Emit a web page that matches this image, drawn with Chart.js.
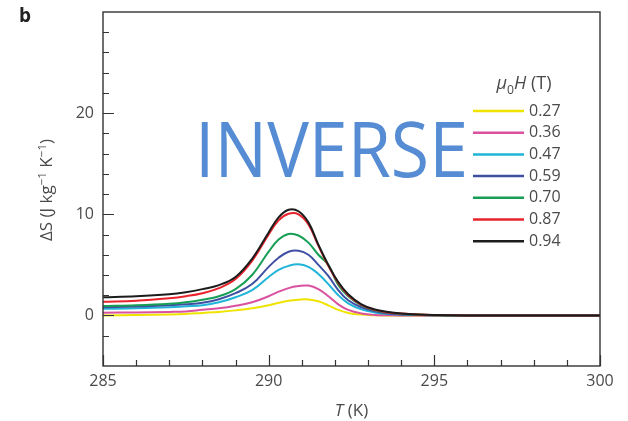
<!DOCTYPE html>
<html>
<head>
<meta charset="utf-8">
<title>Entropy change vs temperature</title>
<script src="https://cdn.jsdelivr.net/npm/chart.js@4.4.1/dist/chart.umd.min.js"></script>
<style>
  html, body { margin: 0; padding: 0; background: #fff; }
  #wrap { position: relative; width: 628px; height: 421px; }
</style>
</head>
<body>
<div id="wrap"><canvas id="chart" width="628" height="421"></canvas></div>
<script>
/* ---- data: ΔS (J kg-1 K-1) against T (K), one curve per field ---- */
const temps = [285, 286, 287, 287.5, 288, 288.5, 289, 289.5, 290, 290.3, 290.6, 290.9,
               291.2, 291.5, 291.8, 292.1, 292.4, 292.8, 293.2, 293.6, 294, 294.5, 295,
               296, 298, 300];

const fieldLabels = ['0.27', '0.36', '0.47', '0.59', '0.70', '0.87', '0.94'];

const ds027 = [0.0, 0.05, 0.1, 0.15, 0.25, 0.35, 0.5, 0.7, 1.0, 1.25, 1.45, 1.55,
               1.58, 1.4, 1.0, 0.55, 0.25, 0.08, 0.02, 0, 0, 0, 0, 0, 0, 0];
const ds036 = [0.27, 0.3, 0.35, 0.4, 0.55, 0.7, 0.95, 1.3, 1.9, 2.35, 2.7, 2.9,
               2.95, 2.6, 1.9, 1.1, 0.55, 0.2, 0.05, 0.02, 0, 0, 0, 0, 0, 0];
const ds047 = [0.66, 0.7, 0.8, 0.9, 1.0, 1.3, 1.8, 2.5, 3.8, 4.5, 4.9, 5.05,
               4.8, 4.1, 3.1, 2.0, 1.2, 0.6, 0.3, 0.15, 0.08, 0.04, 0.01, 0, 0, 0];
const ds059 = [0.82, 0.88, 1.0, 1.1, 1.25, 1.6, 2.2, 3.1, 4.8, 5.7, 6.3, 6.4,
               6.0, 5.0, 3.9, 2.5, 1.5, 0.8, 0.4, 0.2, 0.1, 0.05, 0.02, 0, 0, 0];
const ds070 = [0.92, 1.0, 1.15, 1.3, 1.55, 1.9, 2.6, 4.0, 6.3, 7.5, 8.05, 7.9,
               7.2, 6.0, 5.0, 3.0, 1.9, 1.0, 0.5, 0.28, 0.15, 0.07, 0.02, 0, 0, 0];
const ds087 = [1.35, 1.45, 1.7, 1.9, 2.2, 2.7, 3.6, 5.4, 8.0, 9.4, 10.05, 10.0,
               9.0, 6.9, 4.9, 3.2, 2.0, 1.05, 0.55, 0.3, 0.18, 0.08, 0.03, 0, 0, 0];
const ds094 = [1.8, 1.9, 2.1, 2.3, 2.6, 3.0, 3.8, 5.6, 8.2, 9.7, 10.45, 10.3,
               9.2, 7.0, 5.0, 3.3, 2.1, 1.1, 0.6, 0.35, 0.2, 0.1, 0.05, 0, 0, 0];

const xTickLabels = [285, 290, 295, 300];
const yTickLabels = [0, 10, 20];

const lineColors = ['#f0e300', '#d9519f', '#1fb4d8', '#3f4fa3', '#169e55', '#e8232c', '#1c1c1c'];

const FONT = '"Open Sans", "Noto Sans", sans-serif';
const TEXT = '#4a4a4a';

const series = [ds027, ds036, ds047, ds059, ds070, ds087, ds094];

const datasets = series.map((vals, i) => ({
  label: fieldLabels[i],
  data: temps.map((t, k) => ({ x: t, y: vals[k] })),
  borderColor: lineColors[i],
  borderWidth: 2,
  pointRadius: 0,
  fill: false,
  tension: 0.4,
  order: series.length - i   // highest field drawn on top
}));

/* draw a run of text pieces, some raised/lowered, starting at x */
function richWidth(ctx, parts, size) {
  let w = 0;
  parts.forEach(p => {
    ctx.font = (p.style || '') + ' ' + (p.sub || p.sup ? size * 0.68 : size) + 'px ' + FONT;
    w += ctx.measureText(p.t).width;
  });
  return w;
}
function drawRich(ctx, parts, x, y, size) {
  parts.forEach(p => {
    const s = p.sub || p.sup ? size * 0.68 : size;
    ctx.font = (p.style || '') + ' ' + s + 'px ' + FONT;
    const dy = p.sup ? -size * 0.38 : p.sub ? size * 0.25 : 0;
    ctx.fillText(p.t, x, y + dy);
    x += ctx.measureText(p.t).width;
  });
}

/* frame, inward ticks, labels, legend and overlay text */
const decorations = {
  id: 'decorations',
  afterDraw(chart) {
    const { ctx, chartArea: a, scales: { x, y } } = chart;
    ctx.save();

    // plot frame
    ctx.strokeStyle = '#333';
    ctx.lineWidth = 1.4;
    ctx.strokeRect(a.left, a.top, a.right - a.left, a.bottom - a.top);

    // x ticks (inward from bottom)
    ctx.lineWidth = 1.2;
    ctx.beginPath();
    for (let t = x.min; t <= x.max; t += 1) {
      const px = Math.round(x.getPixelForValue(t)) + 0.5;
      const len = xTickLabels.includes(t) ? 11 : 6;
      ctx.moveTo(px, a.bottom);
      ctx.lineTo(px, a.bottom - len);
    }
    // y ticks (inward from left)
    for (let v = -2; v < y.max; v += 2) {
      const py = Math.round(y.getPixelForValue(v)) + 0.5;
      const len = yTickLabels.includes(v) ? 11 : 6;
      ctx.moveTo(a.left, py);
      ctx.lineTo(a.left + len, py);
    }
    ctx.stroke();

    // tick labels
    ctx.fillStyle = TEXT;
    ctx.font = '16px ' + FONT;
    ctx.textBaseline = 'middle';
    ctx.textAlign = 'center';
    xTickLabels.forEach(t => ctx.fillText(String(t), x.getPixelForValue(t), a.bottom + 15));
    ctx.textAlign = 'right';
    yTickLabels.forEach(v => ctx.fillText(String(v), a.left - 9, y.getPixelForValue(v)));

    // x title: T (K)
    ctx.textAlign = 'left';
    ctx.textBaseline = 'alphabetic';
    const xt = [{ t: 'T', style: 'italic' }, { t: ' (K)' }];
    drawRich(ctx, xt, (a.left + a.right) / 2 - richWidth(ctx, xt, 17) / 2, 416, 17);

    // y title: ΔS (J kg−1 K−1)
    const yt = [{ t: 'ΔS (J kg' }, { t: '−1', sup: true }, { t: ' K' }, { t: '−1', sup: true }, { t: ')' }];
    ctx.save();
    ctx.translate(52, 190);
    ctx.rotate(-Math.PI / 2);
    drawRich(ctx, yt, -richWidth(ctx, yt, 17) / 2, 0, 17);
    ctx.restore();

    // legend
    const lt = [{ t: 'μ', style: 'italic' }, { t: '0', sub: true }, { t: 'H', style: 'italic' }, { t: ' (T)' }];
    drawRich(ctx, lt, 524 - richWidth(ctx, lt, 18) / 2, 89, 18);
    chart.data.datasets.forEach((d, i) => {
      const ry = 111 + i * 21.7;
      ctx.strokeStyle = d.borderColor;
      ctx.lineWidth = 2.5;
      ctx.beginPath();
      ctx.moveTo(473, ry);
      ctx.lineTo(524, ry);
      ctx.stroke();
      ctx.fillStyle = TEXT;
      ctx.font = '16px ' + FONT;
      ctx.textBaseline = 'middle';
      ctx.fillText(d.label, 529, ry);
    });

    // panel letter
    ctx.fillStyle = '#222';
    ctx.font = 'bold 19px ' + FONT;
    ctx.textBaseline = 'alphabetic';
    ctx.fillText('b', 19, 22);

    // overlay word
    ctx.fillStyle = '#568cd4';
    ctx.font = '76px ' + FONT;
    const word = 'INVERSE';
    const sx = 273 / ctx.measureText(word).width;
    ctx.translate(195, 177);
    ctx.scale(sx, 1);
    ctx.fillText(word, 0, 0);

    ctx.restore();
  }
};

new Chart(document.getElementById('chart'), {
  type: 'line',
  data: { datasets },
  options: {
    responsive: false,
    animation: false,
    layout: { padding: { left: 103, right: 28, top: 12, bottom: 55 } },
    plugins: { legend: { display: false }, tooltip: { enabled: false } },
    scales: {
      x: { type: 'linear', min: 285, max: 300, display: false },
      y: { type: 'linear', min: -5, max: 30, display: false }
    }
  },
  plugins: [decorations]
});
</script>
</body>
</html>
